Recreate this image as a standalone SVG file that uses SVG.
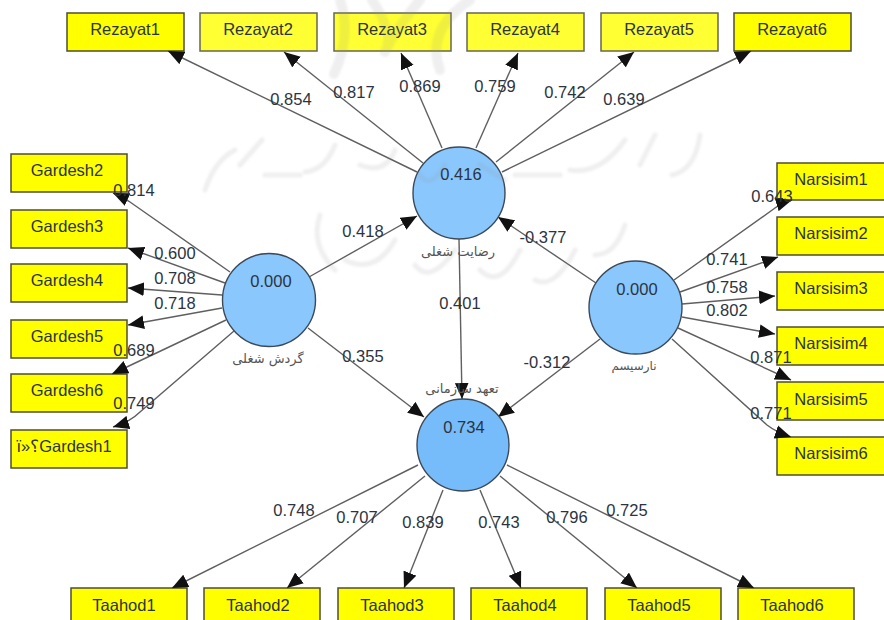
<svg xmlns="http://www.w3.org/2000/svg" width="884" height="620" viewBox="0 0 884 620">
<style>
text{font-family:"Liberation Sans",Arial,sans-serif;font-size:16.5px;fill:#2b3440;text-anchor:middle}
.box{fill:#ffff00;stroke:#4d4d33;stroke-width:1.5}
.soft{fill:#ffff33;stroke:#666655}
.lv{fill:#8ac7fd;stroke:#3c4a58;stroke-width:1.4}
.lvd{fill:#77bcfa}
text.fa{font-family:"DejaVu Sans","Noto Sans",sans-serif;font-size:13px;fill:#555}
text.fb{font-family:"DejaVu Sans","Noto Sans",sans-serif;font-size:12px;fill:#555}
.c{fill:none;stroke:#5f5f5f;stroke-width:1.4;marker-end:url(#a)}
.wm{fill:none;stroke:#8c8c8c;stroke-opacity:.14;stroke-linecap:round;stroke-linejoin:round;filter:url(#b)}
</style>
<defs>
<marker id="a" markerUnits="userSpaceOnUse" markerWidth="16" markerHeight="14" refX="14" refY="6" orient="auto" viewBox="0 0 14 12"><path d="M0 0L14 6L0 12Z" fill="#111"/></marker>
<filter id="b" x="-5%" y="-5%" width="110%" height="110%"><feGaussianBlur stdDeviation="1"/></filter>
</defs>
<rect width="884" height="620" fill="#fff"/>
<g id="nodes-rezayat">
<g id="Rezayat1"><rect class="box" x="67" y="13" width="117" height="38"/><text x="125" y="35">Rezayat1</text></g>
<g id="Rezayat2"><rect class="box soft" x="200" y="13" width="117" height="38"/><text x="258" y="35">Rezayat2</text></g>
<g id="Rezayat3"><rect class="box soft" x="334" y="13" width="117" height="38"/><text x="392" y="35">Rezayat3</text></g>
<g id="Rezayat4"><rect class="box soft" x="467" y="13" width="117" height="38"/><text x="525" y="35">Rezayat4</text></g>
<g id="Rezayat5"><rect class="box soft" x="601" y="13" width="117" height="38"/><text x="659" y="35">Rezayat5</text></g>
<g id="Rezayat6"><rect class="box" x="734" y="13" width="117" height="38"/><text x="792" y="35">Rezayat6</text></g>
</g>
<g id="nodes-gardesh">
<g id="Gardesh2"><rect class="box" x="11" y="154" width="116" height="38"/><text x="67" y="176">Gardesh2</text></g>
<g id="Gardesh3"><rect class="box" x="11" y="210" width="116" height="38"/><text x="67" y="232">Gardesh3</text></g>
<g id="Gardesh4"><rect class="box" x="11" y="264" width="116" height="38"/><text x="67" y="286">Gardesh4</text></g>
<g id="Gardesh5"><rect class="box" x="11" y="320" width="116" height="38"/><text x="67" y="342">Gardesh5</text></g>
<g id="Gardesh6"><rect class="box" x="11" y="374" width="116" height="38"/><text x="67" y="396">Gardesh6</text></g>
<g id="Gardesh1"><rect class="box" x="11" y="430" width="116" height="38"/><text x="64" y="452">ï»؟Gardesh1</text></g>
</g>
<g id="nodes-narsisim">
<g id="Narsisim1"><rect class="box" x="777" y="163" width="117" height="37"/><text x="831" y="185">Narsisim1</text></g>
<g id="Narsisim2"><rect class="box" x="777" y="217" width="117" height="38"/><text x="831" y="239">Narsisim2</text></g>
<g id="Narsisim3"><rect class="box" x="777" y="272" width="117" height="38"/><text x="831" y="294">Narsisim3</text></g>
<g id="Narsisim4"><rect class="box" x="777" y="327" width="117" height="38"/><text x="831" y="349">Narsisim4</text></g>
<g id="Narsisim5"><rect class="box" x="777" y="382" width="117" height="38"/><text x="831" y="405">Narsisim5</text></g>
<g id="Narsisim6"><rect class="box" x="777" y="437" width="117" height="38"/><text x="831" y="459">Narsisim6</text></g>
</g>
<g id="nodes-taahod">
<g id="Taahod1"><rect class="box" x="71" y="588" width="116" height="40"/><text x="124" y="611">Taahod1</text></g>
<g id="Taahod2"><rect class="box" x="204" y="588" width="116" height="40"/><text x="258" y="611">Taahod2</text></g>
<g id="Taahod3"><rect class="box" x="338" y="588" width="116" height="40"/><text x="392" y="611">Taahod3</text></g>
<g id="Taahod4"><rect class="box" x="471" y="588" width="116" height="40"/><text x="525" y="611">Taahod4</text></g>
<g id="Taahod5"><rect class="box" x="605" y="588" width="116" height="40"/><text x="659" y="611">Taahod5</text></g>
<g id="Taahod6"><rect class="box" x="738" y="588" width="116" height="40"/><text x="792" y="611">Taahod6</text></g>
</g>
<g id="connectors">
<path class="c" d="M417 172L168 51"/>
<path class="c" d="M423 163L284 52"/>
<path class="c" d="M442 148L401 53"/>
<path class="c" d="M476 148L518 53"/>
<path class="c" d="M496 162L634 52"/>
<path class="c" d="M502 172L751 51"/>
<path class="c" d="M230 272L130 202Q124 198 113 193"/>
<path class="c" d="M225 283L128 248"/>
<path class="c" d="M222 295L128 288"/>
<path class="c" d="M222 308L128 325"/>
<path class="c" d="M226 320L112 374"/>
<path class="c" d="M234 331L140 412Q130 422 113 427"/>
<path class="c" d="M674 280L775 208Q782 203 792 200"/>
<path class="c" d="M680 292L778 257"/>
<path class="c" d="M682 304L775 296"/>
<path class="c" d="M682 317L775 334"/>
<path class="c" d="M678 328L791 380"/>
<path class="c" d="M672 339L767 425Q776 432 791 437"/>
<path class="c" d="M309 277L417 216"/>
<path class="c" d="M596 283L498 217"/>
<path class="c" d="M459 239L462 399"/>
<path class="c" d="M308 328L424 417"/>
<path class="c" d="M600 339L498 417"/>
<path class="c" d="M418 465L172 588"/>
<path class="c" d="M425 476L287 588"/>
<path class="c" d="M443 490L404 588"/>
<path class="c" d="M480 490L521 588"/>
<path class="c" d="M500 476L637 588"/>
<path class="c" d="M507 465L754 588"/>
</g>
<g id="latent">
<g id="Rezayat"><circle class="lv" cx="459" cy="193" r="46"/><text x="461" y="180">0.416</text><text class="fa" x="458" y="256">رضایت شغلی</text></g>
<g id="Gardesh"><circle class="lv" cx="269" cy="300" r="46.5"/><text x="271" y="287">0.000</text><text class="fa" x="268" y="363">گردش شغلی</text></g>
<g id="Narsisim"><circle class="lv" cx="635.500" cy="307.500" r="46.500"/><text x="637" y="295">0.000</text><text class="fb" x="634" y="370">نارسیسم</text></g>
<g id="Taahod"><circle class="lv lvd" cx="463" cy="445" r="46"/><text x="464" y="433">0.734</text><text class="fa" x="462" y="393">تعهد سازمانی</text></g>
</g>
<g id="loadings">
<text x="291" y="105">0.854</text><text x="354" y="98">0.817</text><text x="420" y="92">0.869</text><text x="495" y="92">0.759</text><text x="565" y="98">0.742</text><text x="624" y="105">0.639</text>
<text x="134" y="196">0.814</text><text x="175" y="259">0.600</text><text x="175" y="284">0.708</text><text x="175" y="309">0.718</text><text x="134" y="356">0.689</text><text x="134" y="409">0.749</text>
<text x="772" y="202">0.643</text><text x="727" y="265">0.741</text><text x="727" y="293">0.758</text><text x="727" y="316">0.802</text><text x="771" y="363">0.871</text><text x="771" y="419">0.771</text>
<text x="363" y="237">0.418</text><text x="543" y="243">-0.377</text><text x="460" y="309">0.401</text><text x="363" y="362">0.355</text><text x="547" y="368">-0.312</text>
<text x="294" y="516">0.748</text><text x="357" y="523">0.707</text><text x="423" y="528">0.839</text><text x="499" y="528">0.743</text><text x="567" y="523">0.796</text><text x="627" y="516">0.725</text>
</g>
<g id="watermark" class="wm">
<path stroke-width="10" d="M340 0Q352 35 334 74M372 0Q395 35 385 52M420 0Q395 30 385 52M470 0Q425 30 440 70"/>
<path stroke-width="5" d="M205 190Q215 160 235 150M240 165L262 140M265 175H300M305 172Q325 170 335 145M360 165Q385 175 395 150M420 175Q430 190 445 165M480 165L505 180M515 175H560M570 170Q600 175 625 140M640 165L655 135M672 175Q695 170 700 135"/>
<path stroke-width="5" d="M320 215Q310 245 335 270M345 260Q375 275 395 240M415 265Q430 285 455 250M480 270Q500 290 520 250M535 280Q555 290 575 250M595 255Q615 255 625 225"/>
</g>
</svg>
